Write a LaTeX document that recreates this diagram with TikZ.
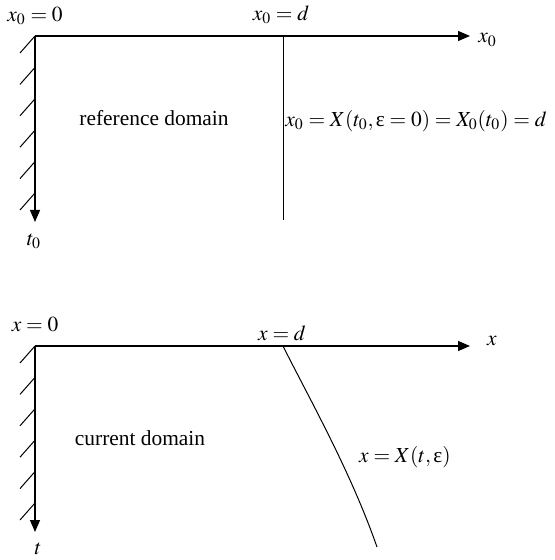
\documentclass[tikz,border=0pt]{standalone}
\usepackage{mathptmx}
\usepackage{fontspec}
\setmainfont{Liberation Serif}
\usetikzlibrary{arrows.meta}

\begin{document}
\begin{tikzpicture}[x=0.5pt, y=-0.5pt,
    axis/.style={line width=0.55pt, -{Triangle[length=6pt,width=5pt]}},
    wall/.style={line width=0.5pt},
    lbl/.style={inner sep=0pt, font=\fontsize{10.7}{13}\selectfont}
  ]
  \useasboundingbox (0,0) rectangle (554,560);

  % reference domain
  \coordinate (o0)    at (35,36);
  \coordinate (xend0) at (470,36);
  \coordinate (tend0) at (35,222);
  \coordinate (d0)    at (283,36);
  \coordinate (dend0) at (283,220);
  \draw[axis] (o0) -- (xend0);
  \draw[axis] (o0) -- (tend0);
  \draw[wall] (d0) -- (dend0);
  \foreach \k in {0,...,5}
    \draw[wall] (35,{36+31.4*\k}) -- ++(-15,17);

  \node[lbl] (l00) at (35,16) {$x_0=0$};
  \node[lbl] (l0d) at (281,15) {$x_0=d$};
  \node[lbl, anchor=west] (lx0) at (478,40) {$x_0$};
  \node[lbl] (lt0) at (34,241) {$t_0$};
  \node[lbl] (ref) at (154,118) {reference domain};
  \node[lbl, anchor=west] (bnd0) at (285,121) {$x_0=X(t_0,\mbox{ε}=0)=X_0(t_0)=d$};

  % current domain
  \coordinate (o1)    at (35,346);
  \coordinate (xend1) at (470,346);
  \coordinate (tend1) at (35,532);
  \coordinate (d1)    at (283,346);
  \coordinate (dend1) at (377,547);
  \draw[axis] (o1) -- (xend1);
  \draw[axis] (o1) -- (tend1);
  \draw[wall] (d1) .. controls (310,400) and (350,470) .. (dend1);
  \foreach \k in {0,...,5}
    \draw[wall] (35,{346+31.4*\k}) -- ++(-15,17);

  \node[lbl] (l10) at (35,325) {$x=0$};
  \node[lbl] (l1d) at (282,333) {$x=d$};
  \node[lbl] (lx1) at (492,341) {$x$};
  \node[lbl] (lt1) at (38,549) {$t$};
  \node[lbl] (cur) at (140,438) {current domain};
  \node[lbl] (bnd1) at (405,457) {$x=X(t,\mbox{ε})$};
\end{tikzpicture}
\end{document}
